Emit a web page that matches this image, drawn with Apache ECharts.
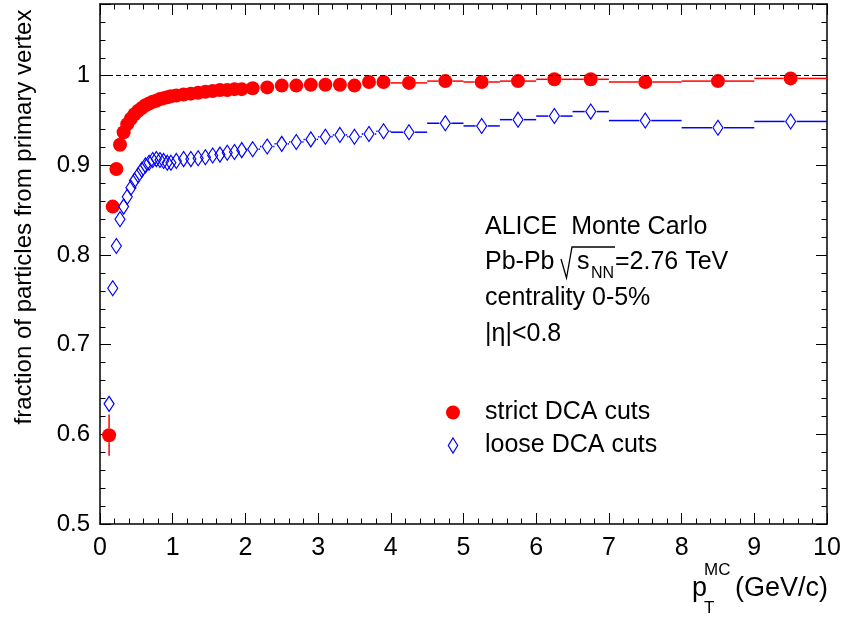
<!DOCTYPE html>
<html><head><meta charset="utf-8">
<script src="https://cdn.jsdelivr.net/npm/echarts@6/dist/echarts.min.js"></script>
<style>html,body{margin:0;padding:0;background:#fff}#c{width:846px;height:621px}</style>
</head><body><div id="c"></div>
<script>
// ---- data ----
const ptCenter = [0.125,0.175,0.225,0.275,0.325,0.375,0.425,0.475,0.525,0.575,0.625,0.675,0.725,0.775,0.825,0.875,0.925,0.975,
  1.05,1.15,1.25,1.35,1.45,1.55,1.65,1.75,1.85,1.95,
  2.1,2.3,2.5,2.7,2.9,3.1,3.3,3.5,3.7,3.9,
  4.25,4.75,5.25,5.75,6.25,6.75,
  7.5,8.5,9.5];
const ptHalfWidth = [0.025,0.025,0.025,0.025,0.025,0.025,0.025,0.025,0.025,0.025,0.025,0.025,0.025,0.025,0.025,0.025,0.025,0.025,
  0.05,0.05,0.05,0.05,0.05,0.05,0.05,0.05,0.05,0.05,
  0.1,0.1,0.1,0.1,0.1,0.1,0.1,0.1,0.1,0.1,
  0.25,0.25,0.25,0.25,0.25,0.25,
  0.5,0.5,0.5];
const strictFrac = [0.599,0.854,0.896,0.923,0.937,0.946,0.952,0.957,0.961,0.964,0.967,0.969,0.971,0.972,0.974,0.975,0.976,0.977,
  0.978,0.979,0.980,0.981,0.982,0.983,0.984,0.984,0.985,0.985,
  0.986,0.987,0.989,0.989,0.990,0.990,0.990,0.989,0.993,0.993,
  0.992,0.994,0.993,0.994,0.996,0.996,
  0.993,0.994,0.997];
const strictErr = [0.023,0.006,0.004,0.003,0.002,0,0,0,0,0,0,0,0,0,0,0,0,0,
  0,0,0,0,0,0,0,0,0,0, 0,0,0,0,0,0,0,0,0,0, 0,0,0,0,0,0, 0,0,0];
const looseFrac = [0.634,0.763,0.810,0.840,0.854,0.865,0.875,0.883,0.889,0.895,0.900,0.903,0.906,0.907,0.906,0.905,0.903,0.903,
  0.905,0.907,0.907,0.908,0.909,0.911,0.912,0.914,0.915,0.917,
  0.918,0.921,0.924,0.926,0.929,0.932,0.934,0.932,0.935,0.938,
  0.937,0.947,0.944,0.951,0.955,0.960,
  0.950,0.942,0.949];
const looseErr = [0.006,0.005,0.004,0.003,0.002,0,0,0,0,0,0,0,0,0,0,0,0,0,
  0,0,0,0,0,0,0,0,0,0, 0,0,0,0,0,0,0,0,0,0, 0,0,0,0,0,0, 0,0,0];
const xTicksMajor = 1, xMin = 0, xMax = 10;
const yMin = 0.5, yMax = 1.08, yMajor = 0.1, yMinor = 0.02;
const seriesNames = ['strict DCA cuts', 'loose DCA cuts'];

// ---- chart ----
const FONT = '"Liberation Sans", Arial, Helvetica, sans-serif';
const RED = '#ff0000', BLUE = '#0000ff';
const chart = echarts.init(document.getElementById('c'), null, {renderer: 'canvas'});

function errData(vals, errs) {
  return ptCenter.map((x, i) => [x, vals[i], ptHalfWidth[i], errs[i]]);
}
function makeErrRender(color, gapX, gapY) {
  return function (params, api) {
    const x = api.value(0), y = api.value(1), hw = api.value(2), e = api.value(3);
    const c = api.coord([x, y]);
    const xl = api.coord([x - hw, y])[0], xr = api.coord([x + hw, y])[0];
    const st = {stroke: color, lineWidth: 1.5};
    const ch = [];
    if (c[0] - gapX > xl + 0.5) ch.push({type: 'line', shape: {x1: xl, y1: c[1], x2: c[0] - gapX, y2: c[1]}, style: st});
    if (xr > c[0] + gapX + 0.5) ch.push({type: 'line', shape: {x1: c[0] + gapX, y1: c[1], x2: xr, y2: c[1]}, style: st});
    if (e > 0) {
      const yt = api.coord([x, y + e])[1], yb = api.coord([x, y - e])[1];
      if (c[1] - gapY > yt + 0.5) ch.push({type: 'line', shape: {x1: c[0], y1: yt, x2: c[0], y2: c[1] - gapY}, style: st});
      if (yb > c[1] + gapY + 0.5) ch.push({type: 'line', shape: {x1: c[0], y1: c[1] + gapY, x2: c[0], y2: yb}, style: st});
    }
    return {type: 'group', children: ch};
  };
}

function xAxisDef(pos, labels) {
  return {
    type: 'value', position: pos, min: xMin, max: xMax, interval: xTicksMajor,
    axisLine: {show: true, onZero: false, lineStyle: {color: '#000', width: 1.5}},
    axisTick: {show: true, inside: true, length: 11, lineStyle: {color: '#000', width: 1}},
    minorTick: {show: true, splitNumber: 5, length: 5.5, lineStyle: {color: '#000', width: 1}},
    axisLabel: {show: labels, margin: 12, fontSize: 25, color: '#000', fontFamily: FONT},
    splitLine: {show: false}, minorSplitLine: {show: false}
  };
}
function yAxisDef(pos, major, labels) {
  return {
    type: 'value', position: pos, min: yMin, max: yMax, interval: major ? yMajor : yMinor,
    axisLine: {show: major, onZero: false, lineStyle: {color: '#000', width: 1.5}},
    axisTick: {show: true, inside: true, length: major ? 11 : 5.5, lineStyle: {color: '#000', width: 1}},
    axisLabel: {
      show: labels, margin: 10, fontSize: 24, color: '#000', fontFamily: FONT,
      formatter: v => (Math.abs(v / yMajor - Math.round(v / yMajor)) < 1e-6 ? String(+v.toFixed(1)) : '')
    },
    splitLine: {show: false}
  };
}

const txt = (x, y, text, size, align, extra) => Object.assign({
  type: 'text', x: x, y: y,
  style: {text: text, fontSize: size, fontFamily: FONT, fill: '#000',
    align: align || 'left', textAlign: align || 'left', verticalAlign: 'middle', textVerticalAlign: 'middle'}
}, extra || {});

const option = {
  backgroundColor: '#fff',
  animation: false,
  grid: {left: 100, right: 19, top: 4, bottom: 97, containLabel: false},
  xAxis: [xAxisDef('bottom', true), xAxisDef('top', false)],
  yAxis: [yAxisDef('left', true, true), yAxisDef('left', false, false),
          yAxisDef('right', true, false), yAxisDef('right', false, false)],
  legend: {
    orient: 'vertical', left: 446, top: 400, padding: 0, itemGap: 8,
    itemWidth: 14, itemHeight: 15, selectedMode: false,
    textStyle: {fontSize: 25, color: '#000', fontFamily: FONT, padding: [0, 0, 0, 20]},
    data: [
      {name: seriesNames[0], icon: 'circle', itemStyle: {color: RED, borderWidth: 0}},
      {name: seriesNames[1], icon: 'path://M5,0 L10,8 L5,16 L0,8 Z',
       itemStyle: {color: 'rgba(0,0,0,0)', borderColor: BLUE, borderWidth: 1.2}}
    ]
  },
  series: [
    {
      type: 'custom', name: 'strict err', z: 1, xAxisIndex: 0, yAxisIndex: 0,
      renderItem: makeErrRender(RED, 7, 7), encode: {x: 0, y: 1},
      data: errData(strictFrac, strictErr), silent: true,
      markLine: {
        silent: true, symbol: ['none', 'none'], label: {show: false},
        lineStyle: {color: '#000', type: [5, 3], width: 1},
        data: [{yAxis: 1}]
      }
    },
    {
      type: 'custom', name: 'loose err', z: 1, xAxisIndex: 0, yAxisIndex: 0,
      renderItem: makeErrRender(BLUE, 6, 8), encode: {x: 0, y: 1},
      data: errData(looseFrac, looseErr), silent: true
    },
    {
      type: 'scatter', name: seriesNames[0], z: 3,
      symbol: 'circle', symbolSize: 14,
      itemStyle: {color: RED, opacity: 1},
      data: ptCenter.map((x, i) => [x, strictFrac[i]])
    },
    {
      type: 'scatter', name: seriesNames[1], z: 3,
      symbol: 'diamond', symbolSize: [10, 15],
      itemStyle: {color: 'rgba(0,0,0,0)', borderColor: BLUE, borderWidth: 1.2, opacity: 1},
      data: ptCenter.map((x, i) => [x, looseFrac[i]])
    }
  ],
  graphic: [
    txt(24, 217, 'fraction of particles from primary vertex', 24, 'center', {rotation: Math.PI / 2}),
    txt(485, 227, 'ALICE  Monte Carlo', 25),
    txt(485, 262, 'Pb-Pb', 25),
    {type: 'polyline', shape: {points: [[561, 259], [566.5, 278], [572, 247], [615, 247]]},
     style: {stroke: '#000', lineWidth: 1.3, fill: null}},
    txt(577, 262, 's', 25),
    txt(591, 274, 'NN', 16),
    txt(615, 262, '=2.76 TeV', 25),
    txt(485, 298, 'centrality 0-5%', 25),
    txt(485, 334, '|η|<0.8', 25),
    txt(692, 589, 'p', 27),
    txt(704, 570, 'MC', 17),
    txt(704, 608, 'T', 17),
    txt(828, 589, '(GeV/c)', 27, 'right')
  ]
};
chart.setOption(option);
</script>
</body></html>
